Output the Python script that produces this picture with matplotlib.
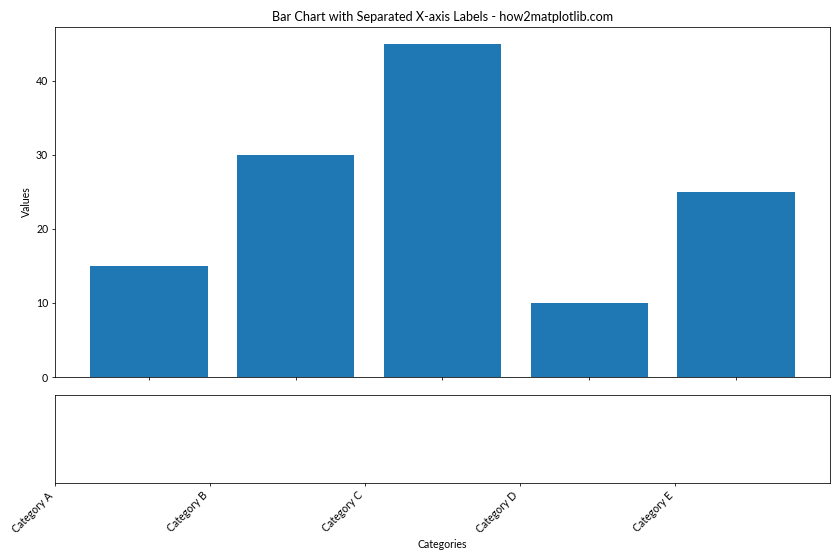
import matplotlib.pyplot as plt

# data
categories = ['Category A', 'Category B', 'Category C', 'Category D', 'Category E']
values = [15, 30, 45, 10, 25]

plt.rcParams['font.family'] = ['Lato', 'DejaVu Sans']
plt.rcParams['font.size'] = 10.8

fig = plt.figure(figsize=(12, 8), dpi=70)
ax1 = fig.add_axes([55 / 840, 1 - 377 / 560, 775 / 840, 350 / 560])
ax2 = fig.add_axes([55 / 840, 1 - 483 / 560, 775 / 840, 88 / 560])

# bars on top, no tick labels
ax1.bar(range(len(categories)), values, color='#1f77b4')
ax1.set_xticks(range(len(categories)))
ax1.set_xticklabels([])
ax1.set_ylabel('Values')
ax1.set_title('Bar Chart with Separated X-axis Labels - how2matplotlib.com')

# separate axis holding the labels
ax2.set_xlim(0, len(categories))
ax2.set_xticks(range(len(categories)))
ax2.set_xticklabels(categories, rotation=45, ha='right')
ax2.set_yticks([])
ax2.set_xlabel('Categories')

fig.savefig('out.png', dpi=70)
